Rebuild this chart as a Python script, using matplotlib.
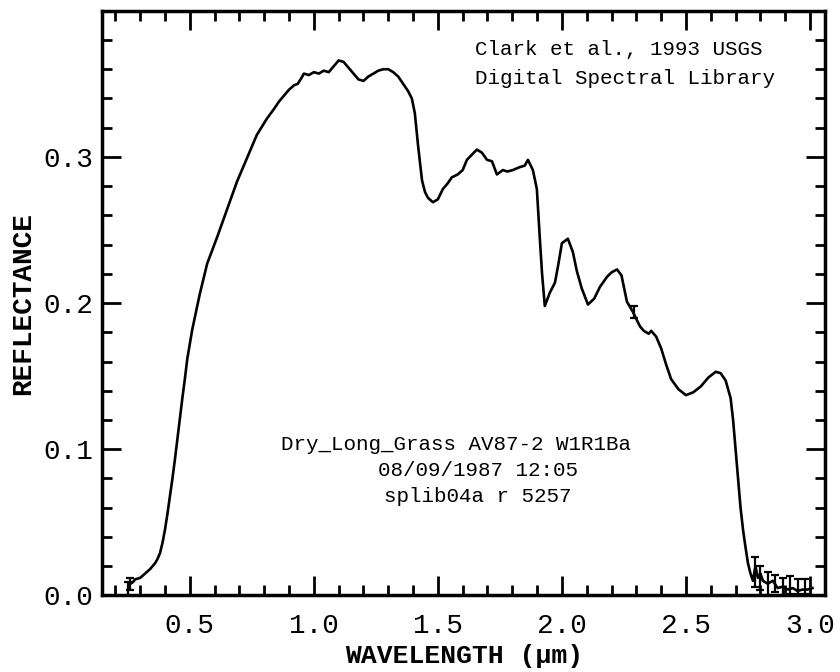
import numpy as np
import matplotlib
matplotlib.use("Agg")
import matplotlib.pyplot as plt
from matplotlib.ticker import MultipleLocator

# spectrum (wavelength in um, reflectance)
wl = [0.25, 0.26, 0.27, 0.28, 0.30, 0.32, 0.34, 0.36, 0.37, 0.38, 0.39, 0.40,
      0.41, 0.42, 0.43, 0.44, 0.45, 0.46, 0.47, 0.48, 0.49, 0.50, 0.51, 0.52,
      0.54, 0.57, 0.61, 0.65, 0.69, 0.73, 0.77, 0.81, 0.84, 0.86, 0.88, 0.90,
      0.92, 0.935, 0.95, 0.96, 0.98, 1.00, 1.02, 1.04, 1.06, 1.08, 1.10, 1.12,
      1.14, 1.16, 1.18, 1.20, 1.22, 1.24, 1.26, 1.28, 1.30, 1.32, 1.34, 1.36,
      1.38, 1.395, 1.407, 1.42, 1.436, 1.448, 1.46, 1.48, 1.50, 1.52, 1.54,
      1.556, 1.58, 1.60, 1.617, 1.64, 1.657, 1.677, 1.698, 1.718, 1.738, 1.762,
      1.78, 1.802, 1.83, 1.85, 1.863, 1.883, 1.899, 1.911, 1.92, 1.931, 1.951,
      1.972, 1.985, 2.000, 2.024, 2.044, 2.06, 2.080, 2.105, 2.13, 2.153, 2.182,
      2.20, 2.222, 2.24, 2.262, 2.286, 2.30, 2.315, 2.33, 2.35, 2.36, 2.38,
      2.40, 2.42, 2.44, 2.47, 2.50, 2.53, 2.56, 2.59, 2.62, 2.64, 2.66, 2.68,
      2.69, 2.70, 2.71, 2.72, 2.73, 2.74, 2.75, 2.76, 2.77, 2.78, 2.79, 2.80,
      2.81, 2.83, 2.85, 2.87, 2.89, 2.91, 2.93, 2.95, 2.97, 2.99, 3.01]
refl = [0.004, 0.008, 0.009, 0.011, 0.012, 0.015, 0.018, 0.022, 0.025, 0.029,
        0.036, 0.045, 0.056, 0.068, 0.080, 0.093, 0.107, 0.121, 0.135, 0.148,
        0.162, 0.172, 0.182, 0.190, 0.206, 0.227, 0.245, 0.264, 0.283, 0.299,
        0.315, 0.326, 0.333, 0.338, 0.342, 0.346, 0.349, 0.350, 0.354, 0.357,
        0.356, 0.358, 0.357, 0.359, 0.358, 0.362, 0.366, 0.365, 0.361, 0.357,
        0.353, 0.352, 0.355, 0.357, 0.359, 0.360, 0.360, 0.358, 0.355, 0.350,
        0.345, 0.340, 0.330, 0.308, 0.284, 0.276, 0.272, 0.269, 0.271, 0.278,
        0.282, 0.286, 0.288, 0.291, 0.298, 0.302, 0.305, 0.303, 0.298, 0.297,
        0.288, 0.291, 0.290, 0.291, 0.293, 0.294, 0.298, 0.291, 0.278, 0.244,
        0.220, 0.198, 0.207, 0.214, 0.226, 0.241, 0.244, 0.235, 0.222, 0.210,
        0.199, 0.203, 0.211, 0.218, 0.221, 0.223, 0.219, 0.201, 0.194, 0.189,
        0.184, 0.181, 0.179, 0.181, 0.177, 0.169, 0.158, 0.148, 0.141, 0.137,
        0.139, 0.143, 0.149, 0.153, 0.152, 0.147, 0.135, 0.120, 0.100, 0.080,
        0.060, 0.045, 0.033, 0.022, 0.015, 0.010, 0.020, 0.012, 0.015, 0.010,
        0.008, 0.010, 0.005, 0.006, 0.004, 0.005, 0.003, 0.004, 0.004, 0.005]

# points that carry error bars
wl_err = [0.25, 0.26, 2.29, 2.78, 2.80, 2.83, 2.86, 2.89, 2.92, 2.95, 2.98]
refl_err = [0.004, 0.008, 0.194, 0.016, 0.012, 0.008, 0.008, 0.006, 0.007, 0.006, 0.006]
err = [0.005, 0.004, 0.004, 0.010, 0.008, 0.008, 0.006, 0.006, 0.006, 0.005, 0.005]

plt.rcParams['font.family'] = ['Liberation Mono', 'DejaVu Sans Mono']

fig = plt.figure(figsize=(8.4, 6.72), dpi=100)
ax = fig.add_axes([0.122, 0.114, 0.860, 0.870])

ax.plot(wl, refl, color='black', lw=1.9)
ax.errorbar(wl_err, refl_err, yerr=err, fmt='none', ecolor='black',
            elinewidth=1.6, capsize=3, capthick=1.6)

ax.set_xlim(0.148, 3.06)
ax.set_ylim(0.0, 0.4)
ax.xaxis.set_major_locator(MultipleLocator(0.5))
ax.xaxis.set_minor_locator(MultipleLocator(0.1))
ax.yaxis.set_major_locator(MultipleLocator(0.1))
ax.yaxis.set_minor_locator(MultipleLocator(0.02))
ax.set_yticks([0.0, 0.1, 0.2, 0.3])
ax.set_yticklabels(['0.0', '0.1', '0.2', '0.3'])
ax.set_xticks([0.5, 1.0, 1.5, 2.0, 2.5, 3.0])
ax.set_xticklabels(['0.5', '1.0', '1.5', '2.0', '2.5', '3.0'])

ax.tick_params(which='both', direction='in', top=True, right=True, width=2,
               labelsize=20, colors='black')
ax.tick_params(which='major', length=14)
ax.tick_params(which='minor', length=7)
ax.tick_params(axis='x', which='major', pad=13)
ax.tick_params(axis='y', which='major', pad=7)
for sp in ax.spines.values():
    sp.set_linewidth(2.5)

ax.set_xlabel('WAVELENGTH (\u03bcm)', fontsize=19, fontweight='bold', labelpad=3)
ax.set_ylabel('REFLECTANCE', fontsize=20, fontweight='bold', labelpad=5)

ax.text(0.515, 0.925, 'Clark et al., 1993 USGS', transform=ax.transAxes,
        fontsize=15)
ax.text(0.515, 0.875, 'Digital Spectral Library', transform=ax.transAxes,
        fontsize=15)
ax.text(0.49, 0.248, 'Dry_Long_Grass AV87-2 W1R1Ba', transform=ax.transAxes,
        fontsize=15, ha='center')
ax.text(0.52, 0.204, '08/09/1987 12:05', transform=ax.transAxes,
        fontsize=15, ha='center')
ax.text(0.52, 0.160, 'splib04a r 5257', transform=ax.transAxes,
        fontsize=15, ha='center')

fig.savefig('out.png', dpi=100)
